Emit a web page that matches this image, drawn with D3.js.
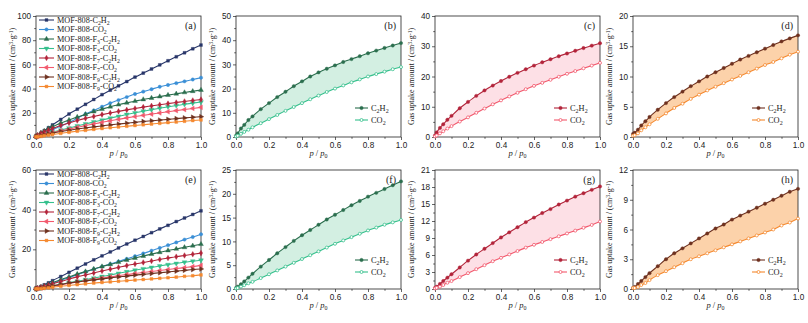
<!DOCTYPE html>
<html>
<head>
<meta charset="utf-8">
<script src="https://cdn.jsdelivr.net/npm/d3@7"></script>
<style>
  html, body { margin: 0; padding: 0; background: #fff; }
  svg { display: block; font-family: "Liberation Serif", "Times New Roman", serif; }
</style>
</head>
<body>
<div id="chart"></div>
<script>
// 8 幅吸附等温线: 上排 (a)-(d), 下排 (e)-(h); 第一列为总览, 其余三列为 C2H2/CO2 对比并填充差值区域
const pressure = [0, 0.01, 0.03, 0.05, 0.075, 0.1, 0.15, 0.2, 0.25, 0.3, 0.35, 0.4, 0.45, 0.5, 0.55, 0.6, 0.65, 0.7, 0.75, 0.8, 0.85, 0.9, 0.95, 1.0];

// top row
const topMOF808C2H2 = [0.5, 1.2, 3.2, 5.2, 7.6, 10, 14.5, 19, 23, 27, 31, 35, 38.7, 42.3, 45.8, 49.5, 52.8, 56.2, 59.6, 63, 66.3, 69.6, 72.9, 76];
const topMOF808CO2 = [0.3, 0.7, 1.8, 3, 4.5, 6, 9, 12, 15.5, 19, 22, 25, 28, 30.5, 33, 35.5, 37.5, 39.5, 41.5, 43, 44.5, 46, 47.5, 49];
const topF3C2H2 = [0.5, 1.5, 3.5, 5, 7, 8.5, 11.5, 14, 16.5, 18.7, 21, 23, 25, 26.7, 28.2, 29.6, 31, 32.2, 33.4, 34.6, 35.7, 36.8, 37.8, 38.8];
const topF3CO2 = [0.2, 0.5, 1.3, 2.1, 3, 4, 5.7, 7.4, 9.1, 10.8, 12.4, 14, 15.6, 17.1, 18.6, 20, 21.3, 22.6, 23.8, 25, 26, 27, 28, 28.9];
const topF7C2H2 = [0.5, 1.5, 3, 4.2, 5.7, 7, 9.5, 11.6, 13.6, 15.4, 17, 18.5, 19.9, 21.2, 22.4, 23.6, 24.7, 25.7, 26.7, 27.6, 28.5, 29.4, 30.2, 31];
const topF7CO2 = [0.2, 0.5, 1.2, 1.9, 2.8, 3.6, 5.1, 6.5, 8, 9.4, 10.8, 12.1, 13.4, 14.6, 15.8, 16.9, 17.9, 18.9, 19.9, 20.9, 21.8, 22.7, 23.6, 24.5];
const topF9C2H2 = [0.5, 0.7, 1.2, 1.9, 2.6, 3.3, 4.5, 5.6, 6.6, 7.5, 8.4, 9.2, 10, 10.7, 11.4, 12.1, 12.8, 13.4, 14, 14.6, 15.2, 15.8, 16.3, 16.8];
const topF9CO2 = [0.2, 0.3, 0.6, 1.1, 1.6, 2.1, 3, 3.9, 4.8, 5.5, 6.3, 7, 7.7, 8.3, 8.9, 9.5, 10.1, 10.7, 11.3, 11.9, 12.4, 13, 13.6, 14.1];

// bottom row
const botMOF808C2H2 = [0.3, 0.6, 1.3, 2.1, 3.1, 4.2, 6.3, 8.4, 10.5, 12.6, 14.7, 16.7, 18.7, 20.7, 22.7, 24.6, 26.5, 28.4, 30.3, 32.1, 34, 35.8, 37.6, 39.4];
const botMOF808CO2 = [0.2, 0.4, 0.9, 1.5, 2.2, 2.9, 4.4, 5.8, 7.2, 8.6, 10, 11.3, 12.6, 13.9, 15.2, 16.5, 17.9, 19.3, 20.7, 22.1, 23.5, 24.9, 26.2, 27.6];
const botF3C2H2 = [0.2, 0.5, 1, 1.6, 2.4, 3.2, 4.7, 6.1, 7.5, 8.8, 10.1, 11.3, 12.4, 13.5, 14.6, 15.6, 16.6, 17.6, 18.5, 19.4, 20.2, 21, 21.8, 22.6];
const botF3CO2 = [0.1, 0.2, 0.5, 0.8, 1.2, 1.5, 2.3, 3.1, 3.9, 4.7, 5.5, 6.3, 7.1, 7.9, 8.7, 9.5, 10.2, 10.9, 11.6, 12.3, 12.9, 13.5, 14, 14.5];
const botF7C2H2 = [0.2, 0.4, 0.9, 1.4, 2, 2.6, 3.8, 5, 6.1, 7.1, 8.1, 9.1, 10, 10.9, 11.8, 12.6, 13.4, 14.1, 14.9, 15.6, 16.3, 16.9, 17.5, 18.1];
const botF7CO2 = [0.1, 0.2, 0.4, 0.7, 1.1, 1.4, 2.1, 2.8, 3.5, 4.2, 4.9, 5.5, 6.1, 6.7, 7.3, 7.8, 8.3, 8.8, 9.3, 9.8, 10.3, 10.8, 11.3, 11.9];
const botF9C2H2 = [0.1, 0.2, 0.5, 0.8, 1.2, 1.6, 2.3, 3, 3.6, 4.1, 4.6, 5.1, 5.6, 6.1, 6.5, 7, 7.4, 7.8, 8.2, 8.6, 9, 9.4, 9.8, 10.1];
const botF9CO2 = [0.1, 0.1, 0.2, 0.4, 0.6, 0.9, 1.4, 1.8, 2.2, 2.6, 3, 3.3, 3.6, 3.9, 4.2, 4.5, 4.8, 5.1, 5.4, 5.7, 6, 6.4, 6.7, 7.1];

// 图例文字: [文本, 上下标]
const seriesLabels = [
  [["MOF-808-C"], ["2", "sub"], ["H"], ["2", "sub"]],
  [["MOF-808-CO"], ["2", "sub"]],
  [["MOF-808-F"], ["3", "sub"], ["-C"], ["2", "sub"], ["H"], ["2", "sub"]],
  [["MOF-808-F"], ["3", "sub"], ["-CO"], ["2", "sub"]],
  [["MOF-808-F"], ["7", "sub"], ["-C"], ["2", "sub"], ["H"], ["2", "sub"]],
  [["MOF-808-F"], ["7", "sub"], ["-CO"], ["2", "sub"]],
  [["MOF-808-F"], ["9", "sub"], ["-C"], ["2", "sub"], ["H"], ["2", "sub"]],
  [["MOF-808-F"], ["9", "sub"], ["-CO"], ["2", "sub"]],
];
const gasLabels = [[["C"], ["2", "sub"], ["H"], ["2", "sub"]], [["CO"], ["2", "sub"]]];
const panelLabels = ["(a)", "(b)", "(c)", "(d)", "(e)", "(f)", "(g)", "(h)"];
const yMaxes = [100, 50, 40, 20, 60, 25, 21, 12];
const ySteps = [20, 10, 10, 5, 20, 5, 3, 3];
const xTicks = [0, 0.2, 0.4, 0.6, 0.8, 1.0];

const colors = ["#283669", "#3b8fd6", "#2b6e4e", "#36c08d", "#b2243a", "#f2596d", "#6e311f", "#f5892f"];
const fills = { F3: "#d3efe2", F7: "#fde0e6", F9: "#fcd2aa" };
const shapes = ["square", "circle", "up", "down", "diamond", "left", "right", "square"];

const W = 808, H = 323;
const cols = [36, 236, 435, 633], pw = 165;
const rowsPos = [{ top: 16, bottom: 137 }, { top: 170, bottom: 289 }];

const svg = d3.select("#chart").append("svg").attr("width", W).attr("height", H);

function richText(sel, parts, small) {
  parts.forEach(([t, kind]) => {
    const ts = sel.append("tspan").text(t);
    if (kind === "sub") ts.attr("font-size", small).attr("baseline-shift", "-25%");
    if (kind === "sup") ts.attr("font-size", small).attr("baseline-shift", "35%");
  });
}

function marker(g, shape, x, y, color, open) {
  const map = {
    square: [d3.symbolSquare, 0, 8], circle: [d3.symbolCircle, 0, 9], up: [d3.symbolTriangle, 0, 10],
    down: [d3.symbolTriangle, 180, 10], diamond: [d3.symbolDiamond, 0, 9], left: [d3.symbolTriangle, -90, 10],
    right: [d3.symbolTriangle, 90, 10],
  };
  const [type, rot, size] = map[shape];
  g.append("path").attr("d", d3.symbol().type(type).size(open ? 7 : size)())
    .attr("transform", `translate(${x},${y}) rotate(${rot})`)
    .attr("fill", open ? "#fff" : color).attr("stroke", color).attr("stroke-width", open ? 0.8 : 0.4);
}

function drawPanel(idx, series, fillColor) {
  const col = idx % 4, row = Math.floor(idx / 4);
  const left = cols[col], { top, bottom } = rowsPos[row];
  const x = d3.scaleLinear().domain([0, 1]).range([left, left + pw]);
  const y = d3.scaleLinear().domain([0, yMaxes[idx]]).range([bottom, top]);
  const g = svg.append("g");

  // 差值填充
  if (fillColor) {
    const rowsData = pressure.map((p, i) => ({ p, hi: series[0].values[i], lo: series[1].values[i] }));
    g.append("path").attr("fill", fillColor)
      .attr("d", d3.area().x((d) => x(d.p)).y0((d) => y(d.lo)).y1((d) => y(d.hi)).curve(d3.curveMonotoneX)(rowsData));
  }

  // 坐标轴
  const yMajor = d3.range(0, yMaxes[idx] + 1e-9, ySteps[idx]);
  const yMinor = d3.range(ySteps[idx] / 2, yMaxes[idx], ySteps[idx]);
  const xMinor = [0.1, 0.3, 0.5, 0.7, 0.9];
  const ax = g.append("g").attr("font-family", null);
  ax.append("g").attr("transform", `translate(${left},0)`)
    .call(d3.axisLeft(y).tickValues(yMajor).tickSize(3).tickPadding(2).tickFormat(d3.format("d")));
  ax.append("g").attr("transform", `translate(${left},0)`)
    .call(d3.axisLeft(y).tickValues(yMinor).tickSize(1.8).tickFormat(""));
  ax.append("g").attr("transform", `translate(0,${bottom})`)
    .call(d3.axisBottom(x).tickValues(xTicks).tickSize(3).tickPadding(2).tickFormat(d3.format(".1f")));
  ax.append("g").attr("transform", `translate(0,${bottom})`)
    .call(d3.axisBottom(x).tickValues(xMinor).tickSize(1.8).tickFormat(""));
  ax.selectAll("text").attr("font-size", 8.2).attr("fill", "#222").attr("font-family", null);
  ax.selectAll("line").attr("stroke", "#222").attr("stroke-width", 0.7);
  ax.selectAll(".domain").remove();
  g.append("rect").attr("x", left).attr("y", top).attr("width", pw).attr("height", bottom - top)
    .attr("fill", "none").attr("stroke", "#222").attr("stroke-width", 0.8);

  // 曲线 + 标记
  const lineGen = d3.line().x((d, i) => x(pressure[i])).y((d) => y(d)).curve(d3.curveMonotoneX);
  series.forEach((s) => {
    g.append("path").attr("d", lineGen(s.values)).attr("fill", "none")
      .attr("stroke", s.color).attr("stroke-width", 1.1);
    const mg = g.append("g");
    s.values.forEach((v, i) => marker(mg, s.shape, x(pressure[i]), y(v), s.color, s.open));
  });

  // 图例
  if (!fillColor) {
    series.forEach((s, i) => {
      const ly = top + 4 + i * 9.5;
      g.append("line").attr("x1", left + 3).attr("x2", left + 18).attr("y1", ly).attr("y2", ly)
        .attr("stroke", s.color).attr("stroke-width", 1.1);
      marker(g, s.shape, left + 10.5, ly, s.color, false);
      const t = g.append("text").attr("x", left + 21).attr("y", ly + 2.9).attr("font-size", 8.2).attr("fill", "#222");
      richText(t, seriesLabels[i], 5.8);
    });
  } else {
    series.forEach((s, i) => {
      const ly = bottom - 29 + i * 12;
      g.append("line").attr("x1", left + pw - 46).attr("x2", left + pw - 33).attr("y1", ly).attr("y2", ly)
        .attr("stroke", s.color).attr("stroke-width", 1.1);
      marker(g, "circle", left + pw - 39.5, ly, s.color, s.open);
      const t = g.append("text").attr("x", left + pw - 30).attr("y", ly + 2.9).attr("font-size", 8.4).attr("fill", "#222");
      richText(t, gasLabels[i], 6);
    });
  }

  // 面板编号
  g.append("text").attr("x", left + pw - 5).attr("y", top + 13).attr("text-anchor", "end")
    .attr("font-size", 10).attr("fill", "#222").text(panelLabels[idx]);

  // 轴标题
  const xl = g.append("text").attr("x", left + pw / 2).attr("y", bottom + 19).attr("text-anchor", "middle")
    .attr("font-size", 8.5).attr("fill", "#222");
  xl.append("tspan").attr("font-style", "italic").text("p");
  xl.append("tspan").text(" / ");
  xl.append("tspan").attr("font-style", "italic").text("p");
  xl.append("tspan").attr("font-size", 6).attr("baseline-shift", "-25%").text("0");

  const yl = g.append("text").attr("transform", `translate(${left - 21},${(top + bottom) / 2}) rotate(-90)`)
    .attr("text-anchor", "middle").attr("font-size", 8).attr("fill", "#222");
  richText(yl, [["Gas uptake amount / (cm"], ["3", "sup"], ["·g"], ["-1", "sup"], [")"]], 5.6);
}

const topAll = [topMOF808C2H2, topMOF808CO2, topF3C2H2, topF3CO2, topF7C2H2, topF7CO2, topF9C2H2, topF9CO2];
const botAll = [botMOF808C2H2, botMOF808CO2, botF3C2H2, botF3CO2, botF7C2H2, botF7CO2, botF9C2H2, botF9CO2];

[topAll, botAll].forEach((all, r) => {
  drawPanel(r * 4, all.map((values, i) => ({ values, color: colors[i], shape: shapes[i], open: false })), null);
  ["F3", "F7", "F9"].forEach((key, k) => {
    const c2 = all[2 + k * 2], co = all[3 + k * 2];
    drawPanel(r * 4 + 1 + k, [
      { values: c2, color: colors[2 + k * 2], shape: "circle", open: false },
      { values: co, color: colors[3 + k * 2], shape: "circle", open: true },
    ], fills[key]);
  });
});
</script>
</body>
</html>
